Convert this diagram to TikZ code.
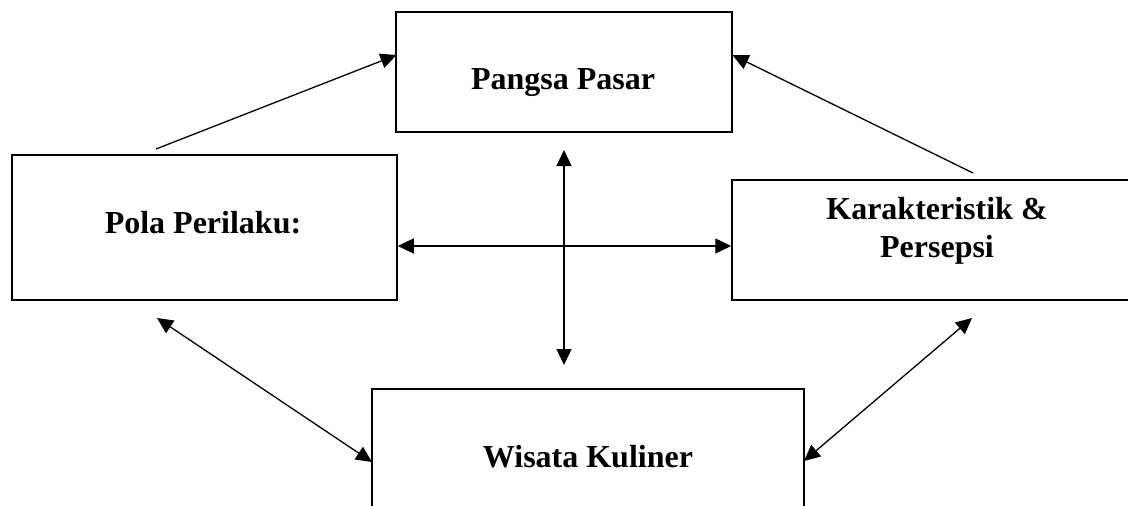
\documentclass[tikz,border=0pt]{standalone}
\usepackage{fontspec}
\setmainfont{Liberation Serif}
\usetikzlibrary{arrows.meta}
\begin{document}
\begin{tikzpicture}[x=1pt,y=-1pt,
  boxnode/.style={draw=black,line width=1.5pt,inner sep=0pt},
  lbl/.style={font=\fontsize{32}{38.4}\selectfont\bfseries,inner sep=0pt,anchor=base,align=center},
  conn/.style={line width=1.3pt,-{Triangle[length=16pt,width=15pt]}},
  dconn/.style={line width=1.3pt,{Triangle[length=16pt,width=15pt]}-{Triangle[length=16pt,width=15pt]}}]
\useasboundingbox (0,0) rectangle (1128,506);
% boxes
\node[boxnode,minimum width=336pt,minimum height=120pt] (pangsa) at (564,72) {};
\node[boxnode,minimum width=385pt,minimum height=145pt] (pola) at (204.5,227.5) {};
\node[boxnode,minimum width=410pt,minimum height=120pt] (karak) at (937,240) {};
\node[boxnode,minimum width=432pt,minimum height=160pt] (wisata) at (588,469) {};
% labels
\node[lbl] (tpangsa) at (563,89) {Pangsa Pasar};
\node[lbl] (tpola) at (203,233) {Pola Perilaku:};
\node[lbl] (tkarak1) at (937,219) {Karakteristik \&};
\node[lbl] (tkarak2) at (937,257) {Persepsi};
\node[lbl] (twisata) at (588,467) {Wisata Kuliner};
% connector end points
\coordinate (a1) at (156,149);
\coordinate (a2) at (396.5,55);
\coordinate (b1) at (973,173);
\coordinate (b2) at (732.5,55);
\coordinate (c1) at (564,150);
\coordinate (c2) at (564,365);
\coordinate (d1) at (pola.east |- 0,246);
\coordinate (d2) at (karak.west |- 0,246);
\coordinate (e1) at (157,318);
\coordinate (e2) at (372,462);
\coordinate (f1) at (972,318);
\coordinate (f2) at (804,461);
% connectors
\draw[conn] (a1) -- (a2);
\draw[conn] (b1) -- (b2);
\draw[dconn] (c1) -- (c2);
\draw[dconn] (d1) -- (d2);
\draw[dconn] (e1) -- (e2);
\draw[dconn] (f1) -- (f2);
\end{tikzpicture}
\end{document}
